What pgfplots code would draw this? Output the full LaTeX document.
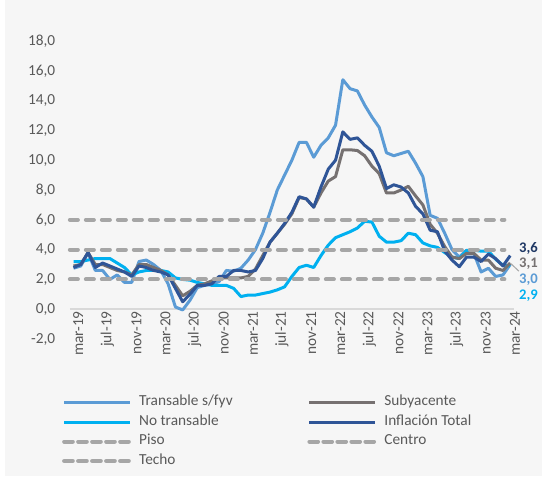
\documentclass[border=0pt]{standalone}
\usepackage{fontspec}
\setmainfont{Carlito}
\usepackage{pgfplots}
\usepackage{pgfplotstable}
\pgfplotsset{compat=1.18}

\definecolor{bg}{HTML}{F6F6F6}
\definecolor{transable}{HTML}{5B9BD5}
\definecolor{subyac}{HTML}{767171}
\definecolor{notrans}{HTML}{00B0F0}
\definecolor{total}{HTML}{2F5597}
\definecolor{meta}{HTML}{A6A6A6}
\definecolor{zeroline}{HTML}{D9D9D9}
\definecolor{txt}{HTML}{595959}
\definecolor{navy}{HTML}{1F3864}

% i = months since mar-19
\pgfplotstableread{
i  trans  suby  notr  total
0  2.75   2.9   3.2   2.8
1  2.9    3.0   3.2   3.0
2  3.8    3.8   3.3   3.8
3  2.6    3.0   3.4   2.8
4  2.6    3.0   3.4   3.1
5  2.0    2.8   3.4   2.9
6  2.3    2.6   3.1   2.7
7  1.8    2.5   2.8   2.5
8  1.8    2.3   2.3   2.2
9  3.2    3.0   2.5   2.9
10 3.3    3.0   2.6   2.8
11 3.0    2.8   2.6   2.6
12 2.6    2.6   2.6   2.5
13 1.7    2.3   2.5   2.3
14 0.15   1.6   2.1   1.4
15 -0.05  0.9   2.0   0.5
16 0.6    1.2   1.95  1.0
17 1.45   1.6   1.8   1.6
18 1.6    1.7   1.7   1.6
19 1.7    1.9   1.6   1.7
20 1.85   2.1   1.6   2.2
21 2.6    2.1   1.6   2.2
22 2.55   2.1   1.4   2.6
23 2.75   2.1   0.85  2.6
24 3.3    2.2   0.95  2.5
25 4.0    2.7   0.95  2.6
26 5.1    3.6   1.05  3.4
27 6.5    4.5   1.15  4.5
28 8.0    5.1   1.3   5.1
29 9.0    5.7   1.5   5.75
30 10.0   6.4   2.2   6.5
31 11.2   7.5   2.8   7.55
32 11.2   7.4   2.95  7.4
33 10.2   6.85  2.8   6.85
34 11.0   7.8   3.6   8.2
35 11.5   8.6   4.3   9.4
36 12.35  8.9   4.8   10.0
37 15.4   10.7  5.0   11.9
38 14.8   10.7  5.2   11.4
39 14.65  10.65 5.45  11.5
40 13.7   10.3  5.9   11.0
41 12.9   9.6   5.85  10.6
42 12.2   9.1   4.9   9.6
43 10.5   7.8   4.5   8.1
44 10.3   7.8   4.5   8.35
45 10.45  8.0   4.6   8.2
46 10.6   8.25  5.1   7.8
47 9.8    7.6   5.0   6.9
48 8.9    7.0   4.45  6.4
49 6.3    5.7   4.25  5.3
50 6.1    5.1   4.15  5.2
51 5.1    4.2   3.8   3.9
52 4.0    3.5   3.5   3.3
53 3.5    3.4   3.4   2.85
54 3.95   3.75  3.95  3.5
55 3.75   3.75  3.95  3.5
56 2.5    3.3   3.9   3.2
57 2.75   3.3   3.9   3.7
58 2.2    2.75  3.35  3.4
59 2.3    2.6   2.95  2.9
60 3.0    3.1   2.9   3.6
}\datatable

\begin{document}
\begin{tikzpicture}
\fill[white] (0pt,0pt) rectangle (406.5pt,-357pt);
\fill[bg] (3.75pt,0pt) rectangle (406.5pt,-357pt);
\begin{axis}[
  at={(52.4pt,-254.25pt)}, anchor=south west,
  scale only axis, width=333pt, height=223.5pt,
  xmin=-0.5, xmax=60.5, ymin=-2, ymax=18,
  axis x line*=middle, axis y line*=left,
  x axis line style={draw=zeroline, line width=1.5pt, -},
  y axis line style={draw=none},
  major tick length=0pt,
  xtick={0,4,...,60},
  xticklabels={mar-19,jul-19,nov-19,mar-20,jul-20,nov-20,mar-21,jul-21,nov-21,mar-22,jul-22,nov-22,mar-23,jul-23,nov-23,mar-24},
  xticklabel style={rotate=90, anchor=east, font=\fontsize{11.5}{13}\selectfont, text=txt, xshift=2pt, yshift=-3.5pt},
  ytick={-2,0,...,18},
  yticklabel style={font=\fontsize{11.5}{13}\selectfont, text=txt, xshift=-7.5pt},
  /pgf/number format/fixed,
  /pgf/number format/fixed zerofill,
  /pgf/number format/precision=1,
  /pgf/number format/use comma,
  /pgf/number format/assume math mode=true,
  clip=false,
  legend columns=2,
  legend cell align=left,
  legend image code/.code={\draw[#1] (0pt,0pt) -- (49.5pt,0pt);},
  legend style={draw=none, fill=none, inner sep=0pt,
    at={(-0.018,-0.19)}, anchor=north west,
    font=\fontsize{11.5}{13}\selectfont, text=txt,
    row sep=4.6pt,
    nodes={inner sep=0pt, text height=7.5pt, text depth=2.5pt},
    /tikz/every odd column/.append style={column sep=5.25pt},
    /tikz/every even column/.append style={column sep=56pt}},
]
\addplot[transable, line width=2.25pt, line join=round, forget plot] table[x=i, y=trans] {\datatable};
\addplot[notrans, line width=2.25pt, line join=round, forget plot] table[x=i, y=notr] {\datatable};
\addplot[subyac, line width=2.25pt, line join=round, forget plot] table[x=i, y=suby] {\datatable};
\addplot[total, line width=2.25pt, line join=round, forget plot] table[x=i, y=total] {\datatable};
\addplot[meta, line width=3pt, line cap=round, dash pattern=on 6pt off 6pt, forget plot] coordinates {(-0.5,2) (59.2,2)};
\addplot[meta, line width=3pt, line cap=round, dash pattern=on 6pt off 6pt, forget plot] coordinates {(-0.5,4) (59.2,4)};
\addplot[meta, line width=3pt, line cap=round, dash pattern=on 6pt off 6pt, forget plot] coordinates {(-0.5,6) (59.2,6)};

\addlegendimage{transable, line width=2.25pt}
\addlegendentry{Transable s/fyv}
\addlegendimage{subyac, line width=2.25pt}
\addlegendentry{Subyacente}
\addlegendimage{notrans, line width=2.25pt}
\addlegendentry{No transable}
\addlegendimage{total, line width=2.25pt}
\addlegendentry{Inflación Total}
\addlegendimage{meta, line width=3pt, line cap=round, dash pattern=on 6.5pt off 4pt}
\addlegendentry{Piso}
\addlegendimage{meta, line width=3pt, line cap=round, dash pattern=on 6.5pt off 4pt}
\addlegendentry{Centro}
\addlegendimage{meta, line width=3pt, line cap=round, dash pattern=on 6.5pt off 4pt}
\addlegendentry{Techo}

\draw[meta, line width=0.75pt] (axis cs:60,3.1) -- (axis cs:61.2,2.55);
\node[anchor=west, inner sep=0pt, font=\fontsize{11}{13}\selectfont\bfseries, text=navy] at (axis cs:61.2,4.1) {3,6};
\node[anchor=west, inner sep=0pt, font=\fontsize{11}{13}\selectfont\bfseries, text=subyac] at (axis cs:61.2,3.05) {3,1};
\node[anchor=west, inner sep=0pt, font=\fontsize{11}{13}\selectfont\bfseries, text=transable] at (axis cs:61.2,2.0) {3,0};
\node[anchor=west, inner sep=0pt, font=\fontsize{11}{13}\selectfont\bfseries, text=notrans] at (axis cs:61.2,0.9) {2,9};
\end{axis}
\end{tikzpicture}
\end{document}
